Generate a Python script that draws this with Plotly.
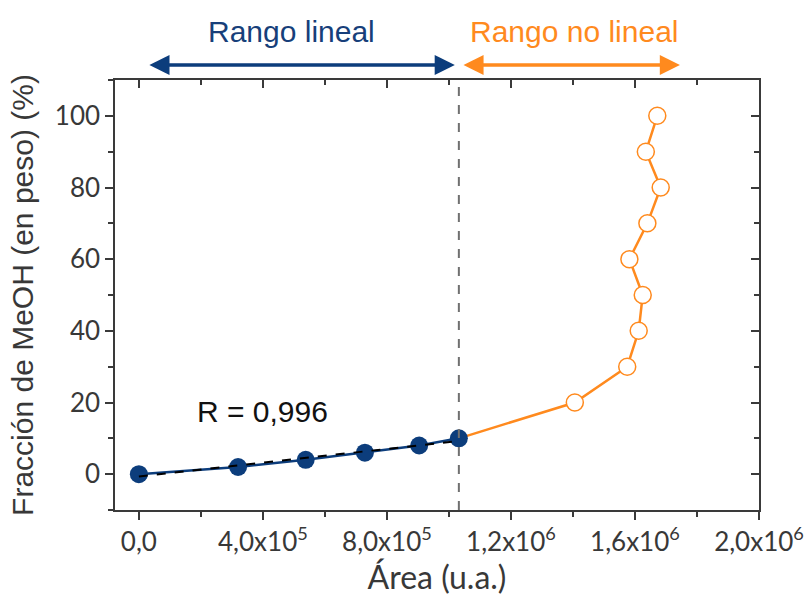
import numpy as np
import plotly.graph_objects as go

# Calibration data: peak area vs MeOH weight fraction
area_linear = [0, 3.20e5, 5.38e5, 7.29e5, 9.04e5, 1.032e6]
meoh_linear = [0, 2, 4, 6, 8, 10]

area_nonlinear = [1.406e6, 1.575e6, 1.612e6, 1.625e6, 1.582e6, 1.640e6, 1.683e6, 1.635e6, 1.672e6]
meoh_nonlinear = [20, 30, 40, 50, 60, 70, 80, 90, 100]

x_tickvals = [0, 4e5, 8e5, 1.2e6, 1.6e6, 2.0e6]
x_ticktext = ["0,0", "4,0x10<sup>5</sup>", "8,0x10<sup>5</sup>",
              "1,2x10<sup>6</sup>", "1,6x10<sup>6</sup>", "2,0x10<sup>6</sup>"]
y_tickvals = [0, 20, 40, 60, 80, 100]

r_label = "R = 0,996"

BLUE = "#0c3d7c"
ORANGE = "#ff8a1e"
AXIS = "#3a3a3a"
TEXT = "#383838"
SANS = "Lato, Open Sans, sans-serif"
ARIAL = "Liberation Sans, Arial, sans-serif"
TICK_FONT = dict(family=SANS, size=26, color=TEXT)

X_RANGE = [-77000, 2.0e6]
Y_RANGE = [-10, 110]

# least-squares line through the linear range
slope, intercept = np.polyfit(area_linear, meoh_linear, 1)
fit_x = [area_linear[0], area_linear[-1]]
fit_y = [slope * v + intercept for v in fit_x]

fig = go.Figure()

# non-linear branch starts from the last point of the linear range
fig.add_trace(go.Scatter(
    x=[area_linear[-1]] + area_nonlinear,
    y=[meoh_linear[-1]] + meoh_nonlinear,
    mode="lines", line=dict(color=ORANGE, width=2.5), hoverinfo="skip"))

fig.add_trace(go.Scatter(
    x=area_linear, y=meoh_linear, mode="lines+markers",
    line=dict(color=BLUE, width=2.5),
    marker=dict(color=BLUE, size=18, line=dict(width=0))))

fig.add_trace(go.Scatter(
    x=fit_x, y=fit_y, mode="lines",
    line=dict(color="black", width=2, dash="dash")))

fig.add_trace(go.Scatter(
    x=area_nonlinear, y=meoh_nonlinear, mode="markers",
    marker=dict(color="white", size=17, line=dict(color=ORANGE, width=1.5))))

# empty traces so the mirrored top / right axes get drawn
fig.add_trace(go.Scatter(x=area_nonlinear, y=meoh_nonlinear, mode="none",
                         xaxis="x2", yaxis="y", hoverinfo="skip"))
fig.add_trace(go.Scatter(x=area_nonlinear, y=meoh_nonlinear, mode="none",
                         xaxis="x", yaxis="y2", hoverinfo="skip"))

# boundary between the two ranges
fig.add_shape(type="line", xref="x", yref="paper",
              x0=area_linear[-1], x1=area_linear[-1], y0=0, y1=1,
              line=dict(color="#707070", width=2, dash="dash"), layer="above")

arrow_y = 1.035
# double-headed range arrows above the plot
fig.add_annotation(x=1.019e6, y=arrow_y, ax=2.9e4, ay=0,
                   xref="x", yref="paper", axref="x", ayref="pixel",
                   text="", showarrow=True, arrowhead=2, arrowside="end+start",
                   arrowwidth=3.5, arrowsize=1.15, arrowcolor=BLUE)
fig.add_annotation(x=1.745e6, y=arrow_y, ax=1.042e6, ay=0,
                   xref="x", yref="paper", axref="x", ayref="pixel",
                   text="", showarrow=True, arrowhead=2, arrowside="end+start",
                   arrowwidth=3.5, arrowsize=1.15, arrowcolor=ORANGE)

fig.add_annotation(x=4.93e5, y=1.112, xref="x", yref="paper", yanchor="middle",
                   text="Rango lineal", showarrow=False,
                   font=dict(family=ARIAL, size=30, color="#173f7a"))
fig.add_annotation(x=1.405e6, y=1.112, xref="x", yref="paper", yanchor="middle",
                   text="Rango no lineal", showarrow=False,
                   font=dict(family=ARIAL, size=30, color=ORANGE))

fig.add_annotation(x=3.98e5, y=17.5, xref="x", yref="y", text=r_label,
                   showarrow=False, font=dict(family=ARIAL, size=30, color="#111111"))

common_axis = dict(showgrid=False, zeroline=False, automargin=False,
                   showline=True, linecolor=AXIS, linewidth=1.5,
                   tickwidth=1.5, tickcolor=AXIS, ticklen=8)

fig.update_layout(
    width=807, height=601,
    margin=dict(l=115, r=48, t=80, b=91),
    paper_bgcolor="white", plot_bgcolor="white",
    showlegend=False,
    xaxis=dict(
        common_axis, range=X_RANGE, tickmode="array", tickvals=x_tickvals, ticktext=x_ticktext,
        ticks="outside",
        minor=dict(dtick=2e5, tick0=0, ticks="outside", ticklen=5, tickwidth=1.5, tickcolor=AXIS),
        tickfont=TICK_FONT,
        title=dict(text="Área (u.a.)", standoff=8, font=dict(family=SANS, size=32, color=TEXT)),
    ),
    yaxis=dict(
        common_axis, range=Y_RANGE, tickmode="array", tickvals=y_tickvals,
        ticks="outside",
        minor=dict(dtick=10, tick0=0, ticks="outside", ticklen=5, tickwidth=1.5, tickcolor=AXIS),
        tickfont=TICK_FONT,
        title=dict(text="Fracción de MeOH (en peso) (%)", standoff=12,
                   font=dict(family=ARIAL, size=30, color=TEXT)),
    ),
    xaxis2=dict(
        common_axis, range=X_RANGE, overlaying="x", side="top", anchor="y",
        tickmode="array", tickvals=x_tickvals, showticklabels=False,
        ticks="inside",
        minor=dict(dtick=2e5, tick0=0, ticks="inside", ticklen=5, tickwidth=1.5, tickcolor=AXIS),
    ),
    yaxis2=dict(
        common_axis, range=Y_RANGE, overlaying="y", side="right", anchor="x",
        tickmode="array", tickvals=y_tickvals, showticklabels=False,
        ticks="inside",
        minor=dict(dtick=10, tick0=0, ticks="inside", ticklen=5, tickwidth=1.5, tickcolor=AXIS),
    ),
)

fig.write_html("out.html")
